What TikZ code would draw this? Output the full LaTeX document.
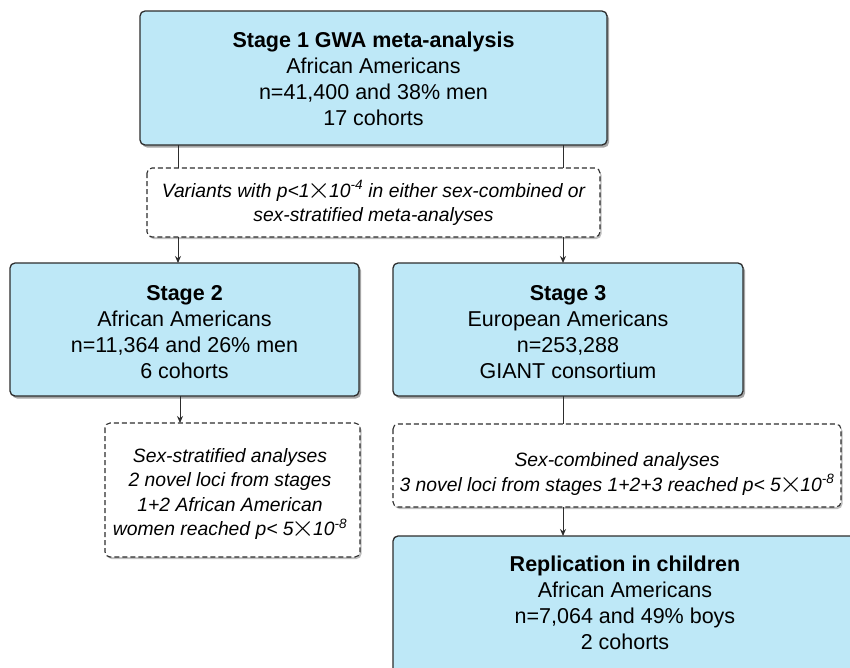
\documentclass[tikz,border=0pt]{standalone}
\usepackage{graphicx}
\usepackage{fontspec}
\setmainfont{Liberation Sans}
\usetikzlibrary{shadows,arrows.meta}
\definecolor{boxblue}{RGB}{190,232,247}
\definecolor{edgegray}{RGB}{45,45,45}
\newcommand{\tms}{\kern-2pt\raisebox{-1pt}{\scalebox{1.45}{$\times$}}\kern-2pt}
\tikzset{
  stagebox/.style={draw=edgegray, line width=1.3pt, fill=boxblue, rounded corners=5pt,
    drop shadow={shadow xshift=2pt, shadow yshift=-2.5pt, opacity=0.35, fill=black}},
  notebox/.style={draw=edgegray, line width=1.1pt, dashed, dash pattern=on 5pt off 3pt, fill=white, rounded corners=5pt,
    drop shadow={shadow xshift=1.5pt, shadow yshift=-2pt, opacity=0.25, fill=black}},
  bigtxt/.style={align=center, font=\fontsize{21.5}{26}\selectfont, text=black},
  smalltxt/.style={align=center, font=\fontsize{19.3}{24.5}\selectfont\itshape, text=black},
  conn/.style={draw=edgegray, line width=1pt},
  arr/.style={conn, -{Stealth[length=7pt,width=6pt]}}
}
\begin{document}
\begin{tikzpicture}[x=1pt,y=-1pt]
\useasboundingbox (0,0) rectangle (850,667);
\clip (0,0) rectangle (850,667);
% boxes
\draw[stagebox] (140,11) rectangle (607,145);
\draw[notebox] (147,168) rectangle (600,237);
\draw[stagebox] (10,263) rectangle (359,396);
\draw[stagebox] (393,263) rectangle (743,396);
\draw[notebox] (105,423) rectangle (360,557);
\draw[notebox] (393,424) rectangle (841,507);
\draw[stagebox] (393,536) rectangle (870,700);
% named anchors
\coordinate (s1a) at (178,145);
\coordinate (s1b) at (563,145);
\coordinate (n1ta) at (178,168);
\coordinate (n1tb) at (563,168);
\coordinate (n1ba) at (178,237);
\coordinate (n1bb) at (563,237);
\coordinate (s2t) at (178,263);
\coordinate (s3t) at (563,263);
\coordinate (s2b) at (180,396);
\coordinate (n2t) at (180,423);
\coordinate (s3b) at (563,396);
\coordinate (n3t) at (563,424);
\coordinate (n3b) at (563,507);
\coordinate (rt) at (563,536);
% connectors
\draw[conn] (s1a) -- (n1ta);
\draw[conn] (s1b) -- (n1tb);
\draw[arr] (n1ba) -- (s2t);
\draw[arr] (n1bb) -- (s3t);
\draw[arr] (s2b) -- (n2t);
\draw[conn] (s3b) -- (n3t);
\draw[arr] (n3b) -- (rt);
% texts
\node[bigtxt] (t1) at (373.5,79) {\textbf{Stage 1 GWA meta-analysis}\\African Americans\\n=41,400 and 38\% men\\17 cohorts};
\node[smalltxt] (t2) at (373.5,203) {Variants with p<1\tms10\textsuperscript{-4} in either sex-combined or\\sex-stratified meta-analyses};
\node[bigtxt] (t3) at (184.5,332) {\textbf{Stage 2}\\African Americans\\n=11,364 and 26\% men\\6 cohorts};
\node[bigtxt] (t4) at (568,332) {\textbf{Stage 3}\\European Americans\\n=253,288\\GIANT consortium};
\node[smalltxt] (t5) at (230,494) {Sex-stratified analyses\\2 novel loci from stages\\1+2 African American\\women reached p< 5\tms10\textsuperscript{-8}};
\node[smalltxt] (t6) at (617,474) {Sex-combined analyses\\3 novel loci from stages 1+2+3 reached p< 5\tms10\textsuperscript{-8}};
\node[bigtxt] (t7) at (625,603) {\textbf{Replication in children}\\African Americans\\n=7,064 and 49\% boys\\2 cohorts};
\end{tikzpicture}
\end{document}
